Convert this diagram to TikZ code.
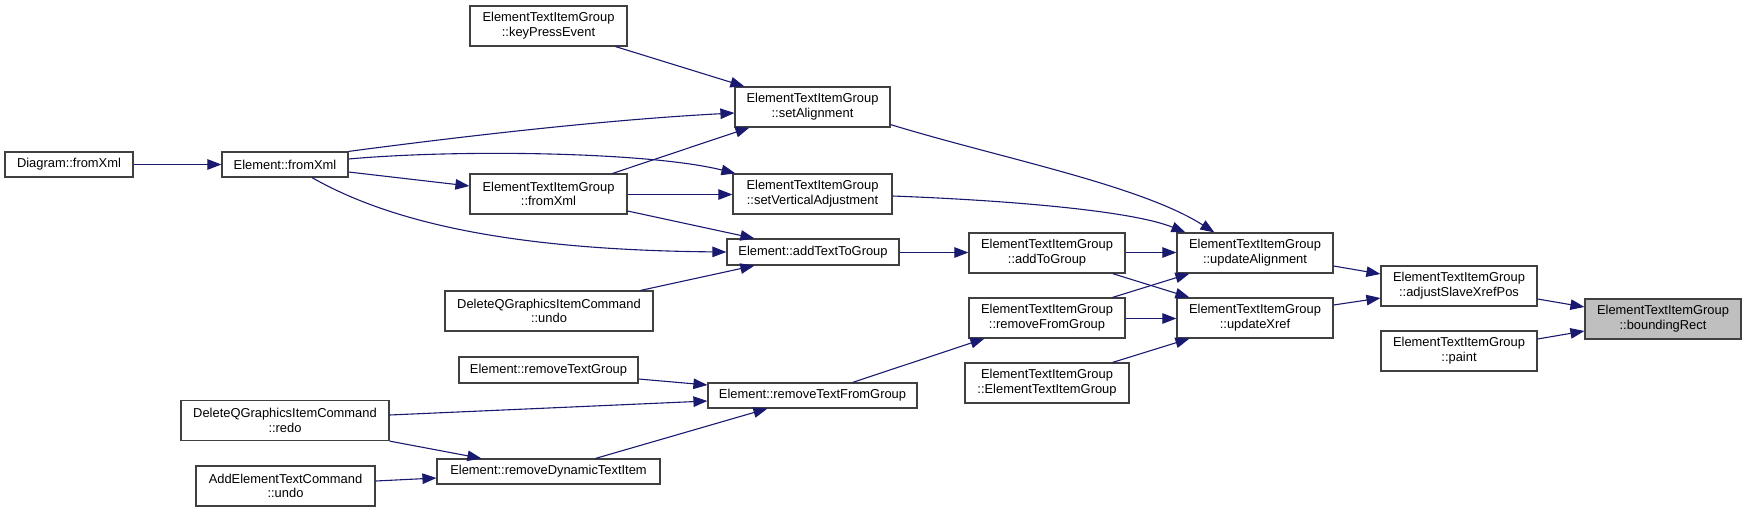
\documentclass[tikz,border=0pt]{standalone}
\usepackage{fontspec}
\setmainfont{Liberation Sans}
\usetikzlibrary{arrows.meta}
\definecolor{edgeblue}{HTML}{191970}
\definecolor{boxline}{HTML}{404040}
\definecolor{rootfill}{HTML}{BFBFBF}
\begin{document}
\begin{tikzpicture}[x=1pt,y=-1pt,
  fn/.style={draw=boxline, line width=1.2pt, fill=white, inner sep=0pt, align=center,
    font=\fontsize{12.9}{14.7}\selectfont, text=black},
  two/.style={fn, minimum height=40pt},
  one/.style={fn, minimum height=25pt},
  root/.style={two, fill=rootfill},
  edge/.style={draw=edgeblue, line width=1.1pt, -{Triangle[length=14pt,width=10.5pt]}}]
\useasboundingbox (0,0) rectangle (1747,512);

% column 1-2
\node[one, minimum width=128pt] (diag) at (69,164.5) {Diagram::fromXml};
\node[one, minimum width=126pt] (efx) at (285,164.5) {Element::fromXml};
\node[two, minimum width=208pt] (redo) at (285,420.5) {DeleteQGraphicsItemCommand\\::redo};
\node[two, minimum width=179pt] (aetu) at (285.5,486) {AddElementTextCommand\\::undo};
% column 3
\node[two, minimum width=157pt] (kpe) at (548.5,26) {ElementTextItemGroup\\::keyPressEvent};
\node[two, minimum width=157pt] (gfx) at (548.5,194) {ElementTextItemGroup\\::fromXml};
\node[two, minimum width=208pt] (dund) at (549,311) {DeleteQGraphicsItemCommand\\::undo};
\node[one, minimum width=179pt, minimum height=26pt] (rtg) at (548.5,370) {Element::removeTextGroup};
\node[one, minimum width=223pt] (rdti) at (548.5,471.5) {Element::removeDynamicTextItem};
% column 4
\node[two, minimum width=155pt] (sal) at (812.5,107) {ElementTextItemGroup\\::setAlignment};
\node[two, minimum width=159pt] (sva) at (812.5,194) {ElementTextItemGroup\\::setVerticalAdjustment};
\node[one, minimum width=172pt, minimum height=26pt] (attg) at (813,252) {Element::addTextToGroup};
\node[one, minimum width=209pt] (rtfg) at (812.5,395.5) {Element::removeTextFromGroup};
% column 5
\node[two, minimum width=156pt] (atg) at (1047,253) {ElementTextItemGroup\\::addToGroup};
\node[two, minimum width=156pt] (rfg) at (1047,318) {ElementTextItemGroup\\::removeFromGroup};
\node[two, minimum width=164pt] (etig) at (1047,383) {ElementTextItemGroup\\::ElementTextItemGroup};
% column 6
\node[two, minimum width=156pt] (ual) at (1255,253) {ElementTextItemGroup\\::updateAlignment};
\node[two, minimum width=156pt] (uxr) at (1255,318) {ElementTextItemGroup\\::updateXref};
% column 7
\node[two, minimum width=156pt] (asx) at (1459,286) {ElementTextItemGroup\\::adjustSlaveXrefPos};
\node[two, minimum width=156pt] (pnt) at (1459,351) {ElementTextItemGroup\\::paint};
% column 8
\node[root, minimum width=156pt] (br) at (1663,319) {ElementTextItemGroup\\::boundingRect};

% edges
\draw[edge] (diag.east) -- (efx.west);
\draw[edge] (efx.north east) .. controls (450,138) and (600,120) .. ([yshift=-6pt]sal.west);
\draw[edge] ([yshift=5.5pt]efx.east) .. controls (460,149) and (650,152) .. ([xshift=3pt]sva.north west);
\draw[edge] ([yshift=-7.5pt]efx.east) -- ([yshift=8pt]gfx.west);
\draw[edge] ([xshift=27pt]efx.south) .. controls (390,222) and (510,250) .. (attg.west);
\draw[edge] ([xshift=-12pt]kpe.south east) -- ([xshift=10pt]sal.north west);
\draw[edge] ([xshift=-15pt]gfx.north east) -- ([xshift=15pt]sal.south west);
\draw[edge] ([yshift=-0.5pt]gfx.east) -- ([yshift=-0.5pt]sva.west);
\draw[edge] ([yshift=-17pt]gfx.east) -- ([xshift=28pt]attg.north west);
\draw[edge] ([xshift=-13pt]dund.north east) -- ([xshift=28pt]attg.south west);
\draw[edge] ([yshift=-0.5pt]attg.east) -- ([yshift=-0.5pt]attg.east -| atg.west);
\draw[edge] ([yshift=3pt]sal.south east) .. controls (1000,158) and (1140,185) .. ([xshift=38pt]ual.north west);
\draw[edge] ([yshift=-2pt]sva.east) .. controls (1000,200) and (1130,210) .. ([xshift=9pt]ual.north west);
\draw[edge] ([yshift=0.5pt]atg.east) -- ([yshift=0.5pt]ual.west);
\draw[edge] ([xshift=-13pt]atg.south east) -- ([xshift=13pt]uxr.north west);
\draw[edge] ([xshift=-13pt]rfg.north east) -- ([xshift=13pt]ual.south west);
\draw[edge] ([yshift=-0.5pt]rfg.east) -- ([yshift=-0.5pt]uxr.west);
\draw[edge] ([xshift=-17pt]etig.north east) -- ([xshift=13pt]uxr.south west);
\draw[edge] ([yshift=-13pt]ual.east) -- ([yshift=12pt]asx.west);
\draw[edge] ([yshift=13pt]uxr.east) -- ([yshift=-12pt]asx.west);
\draw[edge] ([yshift=-13pt]asx.east) -- ([yshift=12pt]br.west);
\draw[edge] ([yshift=12pt]pnt.east) -- ([yshift=-12pt]br.west);
\draw[edge] ([yshift=-9pt]rtg.east) -- ([yshift=10.5pt]rtfg.west);
\draw[edge] ([yshift=5.5pt]redo.east) -- ([yshift=-5.5pt]rtfg.west);
\draw[edge] (redo.south east) -- ([xshift=45pt]rdti.north west);
\draw[edge] ([yshift=5pt]aetu.east) -- ([yshift=-6.5pt]rdti.west);
\draw[edge] ([xshift=-65pt]rdti.north east) -- ([xshift=60pt]rtfg.south west);
\draw[edge] ([xshift=-65pt]rtfg.north east) -- ([xshift=16pt]rfg.south west);
\end{tikzpicture}
\end{document}
